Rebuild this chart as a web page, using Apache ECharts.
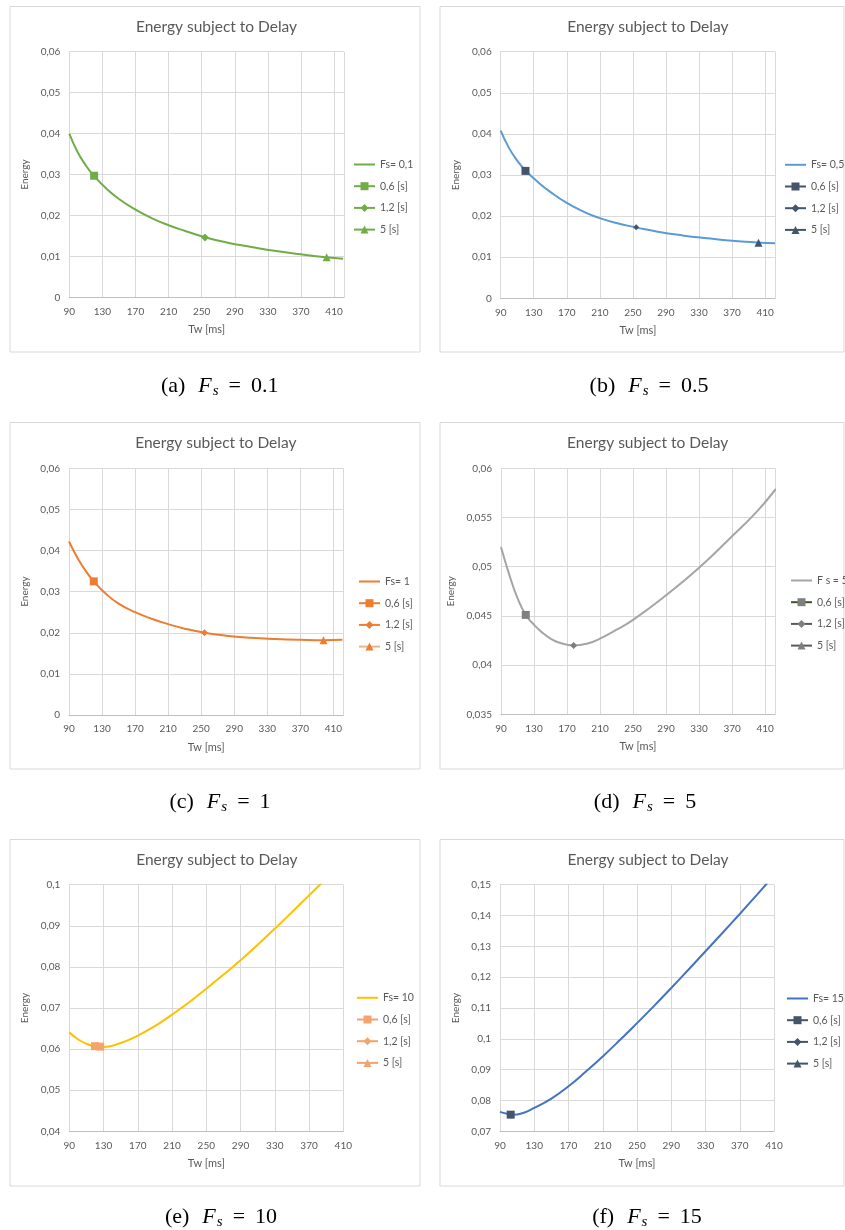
<!DOCTYPE html>
<html><head><meta charset="utf-8">
<script src="https://cdn.jsdelivr.net/npm/echarts@6/dist/echarts.min.js"></script>
<style>
html,body{margin:0;padding:0;background:#fff;width:845px;height:1230px;overflow:hidden}
.p{position:absolute}
</style>
</head><body>
<div id="pa" class="p" style="left:0;top:0;width:430px;height:410px"></div>
<div id="pb" class="p" style="left:430px;top:0;width:415px;height:410px"></div>
<div id="pc" class="p" style="left:0;top:410px;width:430px;height:416px"></div>
<div id="pd" class="p" style="left:430px;top:410px;width:415px;height:416px"></div>
<div id="pe" class="p" style="left:0;top:826px;width:430px;height:404px"></div>
<div id="pf" class="p" style="left:430px;top:826px;width:415px;height:404px"></div>
<script>
// ---------------- DATA ----------------
const chartTitle = 'Energy subject to Delay';
const xName = 'Tw [ms]';
const yName = 'Energy';
const markerNames = ['0,6 [s]', '1,2 [s]', '5 [s]'];

// (a) Fs = 0.1
const twA     = [90, 100, 110, 120, 135, 150, 170, 190, 210, 230, 255, 280, 310, 340, 370, 400, 421];
const energyA = [0.0400, 0.0355, 0.0322, 0.0296, 0.0265, 0.0240, 0.0214, 0.0193, 0.0176, 0.0162, 0.0146, 0.0134, 0.0123, 0.0113, 0.0105, 0.0098, 0.0094];
const marksA  = [[[120, 0.0297]], [[254, 0.0146]], [[401, 0.0098]]];

// (b) Fs = 0.5
const twB     = [90, 100, 110, 120, 135, 150, 170, 190, 210, 230, 255, 280, 310, 340, 370, 400, 422];
const energyB = [0.0408, 0.0366, 0.0335, 0.0311, 0.0283, 0.0259, 0.0232, 0.0211, 0.0195, 0.0183, 0.0172, 0.0162, 0.0153, 0.0146, 0.0140, 0.0136, 0.0134];
const marksB  = [[[120, 0.0310]], [[254, 0.0173]], [[402, 0.0135]]];

// (c) Fs = 1
const twC     = [90, 100, 110, 120, 135, 150, 170, 190, 210, 230, 254, 280, 310, 340, 370, 398, 421];
const energyC = [0.0422, 0.0383, 0.0351, 0.0325, 0.0294, 0.0271, 0.0250, 0.0234, 0.0221, 0.0210, 0.0200, 0.0193, 0.0188, 0.0185, 0.0183, 0.0182, 0.0183];
const marksC  = [[[120, 0.0325]], [[254, 0.0200]], [[398, 0.0182]]];

// (d) Fs = 5
const twD     = [90, 100, 110, 120, 130, 140, 150, 160, 178, 195, 210, 230, 250, 290, 330, 370, 400, 423];
const energyD = [0.0520, 0.0492, 0.0468, 0.0451, 0.0441, 0.0433, 0.0427, 0.0423, 0.0420, 0.0422, 0.0427, 0.0436, 0.0446, 0.0471, 0.0499, 0.0531, 0.0556, 0.0579];
const marksD  = [[[120, 0.0451]], [[178, 0.0420]], []];

// (e) Fs = 10
const twE     = [90, 100, 110, 120, 130, 150, 170, 190, 210, 230, 250, 270, 290, 310, 330, 350, 370, 390, 410];
const energyE = [0.0641, 0.0624, 0.0613, 0.0607, 0.0605, 0.0615, 0.0633, 0.0656, 0.0684, 0.0714, 0.0747, 0.0781, 0.0816, 0.0854, 0.0893, 0.0933, 0.0974, 0.1015, 0.1057];
const marksE  = [[[120, 0.0607], [126, 0.0606]], [], []];

// (f) Fs = 15
const twF     = [90, 100, 105, 115, 130, 150, 170, 190, 210, 230, 250, 270, 290, 310, 330, 350, 370, 390, 410];
const energyF = [0.0763, 0.0756, 0.0754, 0.0758, 0.0776, 0.0806, 0.0846, 0.0893, 0.0943, 0.0996, 0.1051, 0.1107, 0.1165, 0.1224, 0.1284, 0.1344, 0.1405, 0.1467, 0.1530];
const marksF  = [[[102.5, 0.0754]], [], []];

const curveNames = ['Fs= 0,1', 'Fs= 0,5', 'Fs= 1', 'F s = 5', 'Fs= 10', 'Fs= 15'];
const captionLetters = ['(a)', '(b)', '(c)', '(d)', '(e)', '(f)'];
const captionValues = ['0.1', '0.5', '1', '5', '10', '15'];

// ---------------- STYLE / LAYOUT ----------------
const TXT = '#595959';
const FONT = 'Lato, "Open Sans", sans-serif';
const SERIF = '"Liberation Serif", "DejaVu Serif", serif';
const panels = [
  { id:'pa', tw:twA, en:energyA, marks:marksA, xMax:422, yMin:0, yMax:0.06, yInt:0.01,
    box:[10,6.5,410,345.5], grid:{left:69.3,top:51.7,width:274.7,height:245.6}, title:[216.5,26.7], legend:[353,159], cap:[219.7,386],
    line:'#70AD47', mk:['#70AD47','#70AD47','#70AD47'], mkLine:['#70AD47','#70AD47','#70AD47'],
    sym:['rect','diamond','triangle'], size:[8,8,8] },
  { id:'pb', tw:twB, en:energyB, marks:marksB, xMax:422, yMin:0, yMax:0.06, yInt:0.01,
    box:[10,6.5,404,345.5], grid:{left:70.7,top:51.7,width:274.3,height:246.6}, title:[217.8,27.3], legend:[354,159.3], cap:[219,386],
    line:'#5B9BD5', mk:['#44546A','#44546A','#44546A'], mkLine:['#44546A','#44546A','#44546A'],
    sym:['rect','diamond','triangle'], size:[8,6,8] },
  { id:'pc', tw:twC, en:energyC, marks:marksC, xMax:422, yMin:0, yMax:0.06, yInt:0.01,
    box:[10,12.5,410,346.5], grid:{left:69,top:58.3,width:274.3,height:246.7}, title:[215.8,33.3], legend:[358,166], cap:[220,392],
    line:'#ED7D31', mk:['#ED7D31','#ED7D31','#ED7D31'], mkLine:['#ED7D31','#ED7D31','#F4B183'],
    sym:['rect','diamond','triangle'], size:[8,7,8] },
  { id:'pd', tw:twD, en:energyD, marks:marksD, xMax:422, yMin:0.035, yMax:0.06, yInt:0.005,
    box:[10,12.5,404,346.5], grid:{left:71,top:58.3,width:274,height:246}, title:[217.7,33.3], legend:[360,165], cap:[215,392],
    line:'#A5A5A5', mk:['#7F7F7F','#7F7F7F','#7F7F7F'], mkLine:['#375623','#595959','#595959'],
    sym:['rect','diamond','triangle'], size:[8,7,7] },
  { id:'pe', tw:twE, en:energyE, marks:marksE, xMax:410, yMin:0.04, yMax:0.1, yInt:0.01,
    box:[10,13.5,410,346.5], grid:{left:69.3,top:58.7,width:274,height:246.6}, title:[216.8,33.7], legend:[356,166.3], cap:[221,391],
    line:'#FFC000', mk:['#F4A36C','#F4A36C','#F4A36C'], mkLine:['#F4A36C','#F4A36C','#F4A36C'],
    sym:['rect','diamond','triangle'], size:[8,8,8] },
  { id:'pf', tw:twF, en:energyF, marks:marksF, xMax:410, yMin:0.07, yMax:0.15, yInt:0.01,
    box:[10,13.5,404,346.5], grid:{left:70,top:58.7,width:274,height:246.6}, title:[218,33.7], legend:[356,167], cap:[217,391],
    line:'#4472C4', mk:['#44546A','#44546A','#44546A'], mkLine:['#44546A','#44546A','#44546A'],
    sym:['rect','diamond','triangle'], size:[8,8,8] }
];

function fmtY(v) {
  return String(parseFloat(v.toFixed(6))).replace('.', ',');
}

panels.forEach((p, i) => {
  const chart = echarts.init(document.getElementById(p.id), null, { renderer: 'canvas' });
  const curve = p.tw.map((x, k) => [x, p.en[k]]);
  const series = [{
    name: curveNames[i], type: 'line', data: curve, smooth: 0.5, symbol: 'none',
    lineStyle: { color: p.line, width: 2 }, itemStyle: { color: p.line }, z: 2
  }];
  markerNames.forEach((n, k) => {
    series.push({
      name: n, type: 'line', data: p.marks[k], symbol: p.sym[k], symbolSize: p.size[k], showSymbol: true,
      itemStyle: { color: p.mk[k] }, lineStyle: { color: p.mkLine[k], width: 2 }, z: 3
    });
  });
  chart.setOption({
    animation: false,
    title: {
      text: chartTitle, left: p.title[0], top: p.title[1], textAlign: 'center', textVerticalAlign: 'middle', padding: 0,
      textStyle: { color: TXT, fontFamily: FONT, fontSize: 15.5, fontWeight: 'normal' }
    },
    grid: Object.assign({ containLabel: false }, p.grid),
    legend: {
      orient: 'vertical', left: p.legend[0], top: p.legend[1], padding: 0,
      itemWidth: 21, itemHeight: 10, itemGap: 10.7,
      data: [{ name: curveNames[i], itemStyle: { opacity: 0 } }].concat(markerNames), selectedMode: false,
      textStyle: { color: TXT, fontFamily: FONT, fontSize: 10.5, lineHeight: 10 }
    },
    xAxis: {
      type: 'value', min: 90, max: p.xMax, interval: 40,
      name: xName, nameLocation: 'middle', nameGap: 27,
      nameTextStyle: { color: TXT, fontFamily: FONT, fontSize: 11 },
      axisLine: { show: true, lineStyle: { color: '#BFBFBF', width: 1 } },
      axisTick: { show: false },
      axisLabel: { color: TXT, fontFamily: FONT, fontSize: 10, margin: 9, showMaxLabel: p.xMax === 410 },
      splitLine: { show: true, lineStyle: { color: '#D9D9D9', width: 1 } }
    },
    yAxis: {
      type: 'value', min: p.yMin, max: p.yMax, interval: p.yInt,
      name: yName, nameLocation: 'middle', nameGap: 29, nameRotate: 90,
      nameTextStyle: { color: TXT, fontFamily: FONT, fontSize: 10 },
      axisLine: { show: true, lineStyle: { color: '#D9D9D9', width: 1 } },
      axisTick: { show: false },
      axisLabel: { color: TXT, fontFamily: FONT, fontSize: 10, margin: 9, formatter: fmtY },
      splitLine: { show: true, lineStyle: { color: '#D9D9D9', width: 1 } }
    },
    graphic: [
      { type: 'rect', shape: { x: p.box[0], y: p.box[1], width: p.box[2], height: p.box[3] },
        style: { fill: 'none', stroke: '#D9D9D9', lineWidth: 1 }, silent: true, z: -10 },
      { type: 'text', x: p.cap[0], y: p.cap[1], silent: true,
        style: {
          text: '{a|' + captionLetters[i] + '}{i|F}{s|s}{eq|=}{n|' + captionValues[i] + '}',
          align: 'center', verticalAlign: 'middle',
          rich: {
            a: { fontFamily: SERIF, fontSize: 22, color: '#000', padding: [0, 13, 0, 0] },
            n: { fontFamily: SERIF, fontSize: 22, color: '#000' },
            eq: { fontFamily: SERIF, fontSize: 22, color: '#000', padding: [0, 10, 0, 10] },
            i: { fontFamily: SERIF, fontSize: 22, fontStyle: 'italic', color: '#000' },
            s: { fontFamily: SERIF, fontSize: 15, fontStyle: 'italic', color: '#000', padding: [10, 0, 0, 1] }
          }
        } }
    ],
    series: series
  });
});
</script>
</body></html>
